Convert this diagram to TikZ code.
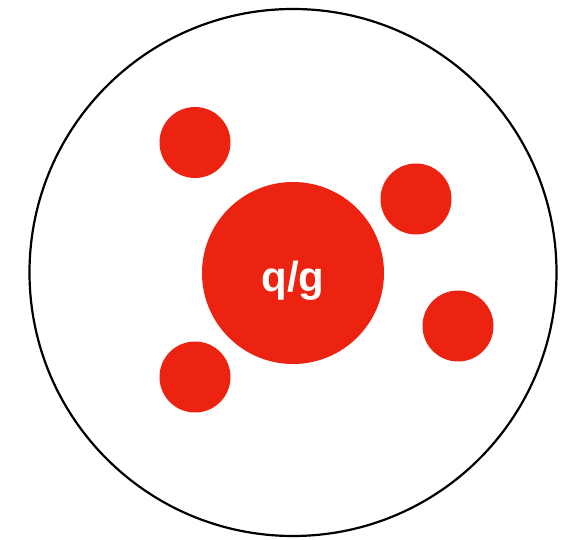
\documentclass[tikz,border=0pt]{standalone}
\usepackage{fontspec}
\setmainfont{Liberation Sans}
\definecolor{blobred}{HTML}{EC2310}

\begin{document}
\begin{tikzpicture}[x=1pt,y=-1pt,
 shell/.style={circle,draw=black,line width=2.2pt,minimum size=527pt,inner sep=0pt},
 core/.style={circle,fill=blobred,minimum size=182pt,inner sep=0pt},
 blob/.style={circle,fill=blobred,minimum size=71pt,inner sep=0pt}]
\useasboundingbox (0,0) rectangle (571,540);
\node[shell] (hadron) at (293,272.5) {};
\node[core] (qg) at (293,273) {};
\node[text=white,font=\bfseries\fontsize{42}{42}\selectfont] (qglabel) at (293,281) {q/g};
\node[blob] (b1) at (195,142.5) {};
\node[blob] (b2) at (416,199) {};
\node[blob] (b3) at (458,326) {};
\node[blob] (b4) at (195,377) {};
\end{tikzpicture}
\end{document}
